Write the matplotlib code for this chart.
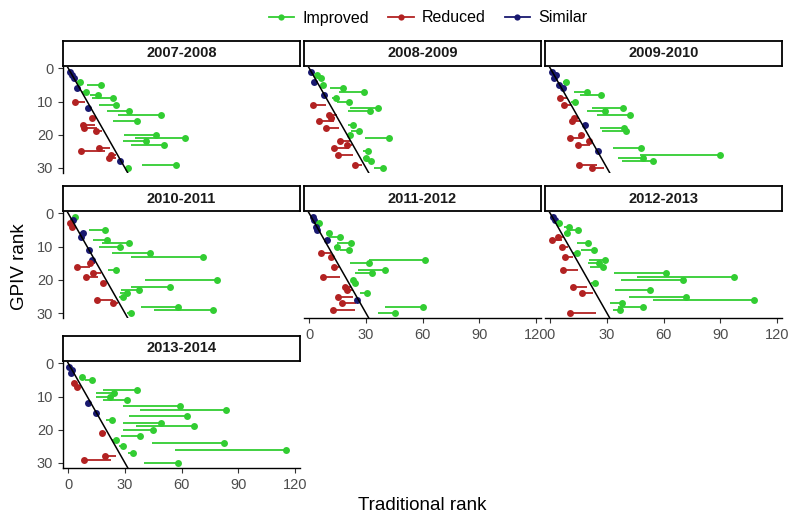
import matplotlib
matplotlib.use("Agg")
import matplotlib.pyplot as plt
from matplotlib.lines import Line2D

plt.rcParams["font.family"] = ["Liberation Sans", "DejaVu Sans"]

# GPIV rank of each entry (same 1..30 in every season)
gpiv_rank = [1, 2, 3, 4, 5, 6, 7, 8, 9, 10, 11, 12, 13, 14, 15,
             16, 17, 18, 19, 20, 21, 22, 23, 24, 25, 26, 27, 28, 29, 30]

seasons = ["2007-2008", "2008-2009", "2009-2010", "2010-2011",
           "2011-2012", "2012-2013", "2013-2014"]

# traditional rank (dot) per season
trad_0708 = [1, 2, 2.8, 6, 17.5, 4.5, 9.4, 15.6, 23.4, 3.5, 25.5, 10.5, 32.2, 49.1, 12.6,
             36.4, 7.7, 8.4, 14.5, 46.2, 61.9, 41.3, 50.9, 16.4, 6.6, 22.4, 21.5, 27.3, 57, 31.6]
trad_0809 = [1, 4, 6.2, 2.7, 7.3, 17.9, 29.2, 8, 14, 20.9, 2, 36.3, 31.9, 10.3, 11.5,
             5, 23, 9, 26.2, 21.8, 42.1, 16.1, 20, 12.9, 31, 15, 30, 32.9, 24, 39]
trad_0910 = [0.9, 3.2, 2.1, 8.3, 4.4, 6.5, 19.4, 27, 5.3, 13.2, 7.4, 38.3, 29.1, 42, 12.3,
             11.5, 18.2, 39.2, 40.2, 16.2, 10.2, 20.3, 14.5, 48.1, 25.2, 90, 49, 54.1, 15.3, 22]
trad_1011 = [3.7, 2.4, 0.7, 1.9, 19.4, 7.7, 6.6, 20.6, 32.2, 27.3, 10.7, 43, 71.5, 12.4, 11.5,
             4.5, 25.2, 13.3, 9.4, 78.8, 18.2, 54, 37.2, 31.3, 29, 15.4, 23.4, 58.2, 76.7, 33]
trad_1112 = [1.8, 2.6, 5.3, 3.5, 4.2, 10.6, 16.2, 9.2, 22, 14.5, 21.2, 6.2, 11.5, 61.2, 31.4,
             13.2, 40.2, 33.2, 7.4, 23.3, 24.3, 19, 20, 30.3, 15.3, 25.2, 17.3, 60.3, 12.3, 45.3]
trad_1213 = [1.6, 2.5, 4.8, 9.8, 14.9, 8.9, 3.9, 0.9, 19.9, 6, 22.9, 14, 7.8, 29, 26,
             27.8, 6.9, 61, 97, 70, 23.8, 11.9, 53, 16.8, 71.8, 108, 37.9, 48.8, 36.7, 10.6]
trad_1314 = [0.3, 1.8, 1.2, 7.5, 12.3, 3, 4.4, 36.3, 24.2, 22.2, 31.2, 10.5, 59, 83.7, 14.4,
             62.7, 23.3, 49, 66.7, 45, 18, 38, 25.4, 82.5, 28.9, 115.2, 34.2, 19.3, 8.2, 57.8]

# other end of each segment
prev_0708 = [1, 2, 2.8, 4.5, 10, 4.5, 7.5, 11.5, 12.4, 8.9, 16.4, 10.5, 20.3, 26.4, 14.5,
             23.8, 14.2, 15, 18, 29.4, 35.1, 29, 33, 22, 19.4, 25.5, 25.2, 27.3, 39, 30]
prev_0809 = [1, 3, 5, 2.7, 6.5, 11.2, 15.6, 8, 12, 14.7, 8.8, 21.4, 20.5, 14.7, 13.8,
             13, 20.4, 15.6, 22, 20, 29.4, 21.8, 22.7, 20.9, 28.5, 23.2, 28.5, 30, 28, 34]
prev_0910 = [0.9, 3.2, 2.1, 6.5, 4.4, 6.5, 12.3, 15.9, 8.8, 11, 11, 22, 19.4, 24.7, 15,
             15.5, 18.2, 26.5, 27.3, 18.5, 16.8, 22, 21.2, 33.2, 25.2, 47.6, 35.6, 37.9, 24.7, 28.2]
prev_1011 = [2.5, 2.4, 3, 4, 10.7, 6, 6.6, 13.3, 17.7, 16.4, 10.7, 23.3, 33.4, 12.4, 14.2,
             11.5, 20.8, 17.1, 15.9, 40.4, 19.5, 33.4, 28.1, 27.3, 27, 23.8, 26.4, 38.6, 45.6, 31]
prev_1112 = [1.8, 2.6, 4, 3.5, 4.2, 9, 10.6, 9.2, 14.8, 13, 16.4, 11.5, 13, 31.8, 21.7,
             15.5, 25.9, 24.3, 16.2, 22, 23, 22, 23, 27, 22.9, 25.2, 24.7, 40.2, 24.3, 36.5]
prev_1213 = [1.6, 2.5, 3.5, 7, 10, 7, 7, 6, 14, 9.2, 16.3, 12, 11.9, 20.4, 19.9,
             21.1, 14.5, 33.5, 45.9, 37.6, 21.5, 19.5, 34.4, 22.5, 41.7, 54.4, 31.7, 35.8, 33.2, 24.3]
prev_1314 = [0.3, 1.8, 1.2, 6, 8.8, 4, 5, 18.4, 14.5, 14.5, 18.4, 10.5, 28.9, 37.7, 14.4,
             32, 19.8, 28.9, 35.6, 28.9, 20, 28, 23, 44.1, 27, 56.4, 31.5, 25.4, 22.8, 39.9]

# I = Improved, R = Reduced, S = Similar
status_0708 = "SSSIISIIIRISIIRIRRRIIIIRRRRSII"
status_0809 = "SIISIIISIIRIIRRRIRIIIRRRIRIIRI"
status_0910 = "SSSISSIIRIRIIIRRSIIRRRRISIIIRR"
status_1011 = "ISRRISSIIISIISRRIRRIRIIIIRRIII"
status_1112 = "SSISSIISIIIRRIIRIIRIIRRIRSRIRI"
status_1213 = "SSIIIIRRIRIIRIIIRIIIIRIRIIIIIR"
status_1314 = "SSSIIRRIIIISIISIIIIIRIIIIIIRRI"

trad = [trad_0708, trad_0809, trad_0910, trad_1011, trad_1112, trad_1213, trad_1314]
prev = [prev_0708, prev_0809, prev_0910, prev_1011, prev_1112, prev_1213, prev_1314]
status = [status_0708, status_0809, status_0910, status_1011, status_1112, status_1213, status_1314]

colors = {"I": "#32CD32", "R": "#B22222", "S": "#191970"}
labels = {"I": "Improved", "R": "Reduced", "S": "Similar"}

W, H = 789, 516
fig = plt.figure(figsize=(W / 100, H / 100), dpi=100)

col_left = [63, 304, 545]
row_top = [66.8, 212, 361.8]
pw, ph = 237, 106
tick_col = "#4D4D4D"

for k, season in enumerate(seasons):
    r, c = divmod(k, 3)
    x0, y0 = col_left[c], row_top[r]
    ax = fig.add_axes([x0 / W, 1 - (y0 + ph) / H, pw / W, ph / H])
    for yy, xe, xs, st in zip(gpiv_rank, trad[k], prev[k], status[k]):
        ax.plot([xs, xe], [yy, yy], color=colors[st], lw=1.3, solid_capstyle="butt", zorder=2)
        ax.plot(xe, yy, "o", color=colors[st], ms=5, mec="none", zorder=3)
    ax.axline((0, 0), (1, 1), color="black", lw=1.1, zorder=4)
    ax.set_xlim(-2.8, 122.6)
    ax.set_ylim(31.45, -0.45)
    for s in ax.spines.values():
        s.set_visible(False)
    ax.set_xticks([0, 30, 60, 90, 120])
    ax.set_yticks([0, 10, 20, 30])
    ax.tick_params(colors="#333333", labelcolor=tick_col, labelsize=10.5, length=3.5, width=0.8)
    show_x = (k == 6) or (r == 1 and c > 0)
    show_y = c == 0
    if show_x:
        ax.spines["bottom"].set_visible(True)
        ax.spines["bottom"].set_linewidth(1.0)
    else:
        ax.tick_params(axis="x", bottom=False, labelbottom=False)
    if show_y:
        ax.spines["left"].set_visible(True)
        ax.spines["left"].set_linewidth(1.0)
    else:
        ax.tick_params(axis="y", left=False, labelleft=False)

    # facet strip
    sh = 25
    sax = fig.add_axes([x0 / W, 1 - (y0 - 1) / H, pw / W, sh / H])
    sax.set_xticks([])
    sax.set_yticks([])
    for s in sax.spines.values():
        s.set_linewidth(1.3)
        s.set_color("black")
    sax.text(0.5, 0.5, season, ha="center", va="center", fontsize=10.5,
             fontweight="bold", color="#1A1A1A", transform=sax.transAxes)

fig.text(20 / W, 1 - 267 / H, "GPIV rank", rotation=90, ha="center", va="center", fontsize=13.5)
fig.text(422 / W, 1 - 505 / H, "Traditional rank", ha="center", va="center", fontsize=13.5)

handles = [Line2D([0], [0], color=colors[key], lw=1.3, marker="o", ms=4.5, mec="none")
           for key in ["I", "R", "S"]]
fig.legend(handles, [labels[key] for key in ["I", "R", "S"]], loc="center",
           bbox_to_anchor=(428 / W, 1 - 18 / H), ncol=3, frameon=False, fontsize=11.5,
           handlelength=1.6, handletextpad=0.5, columnspacing=1.2)

fig.savefig("out.png", dpi=100)
